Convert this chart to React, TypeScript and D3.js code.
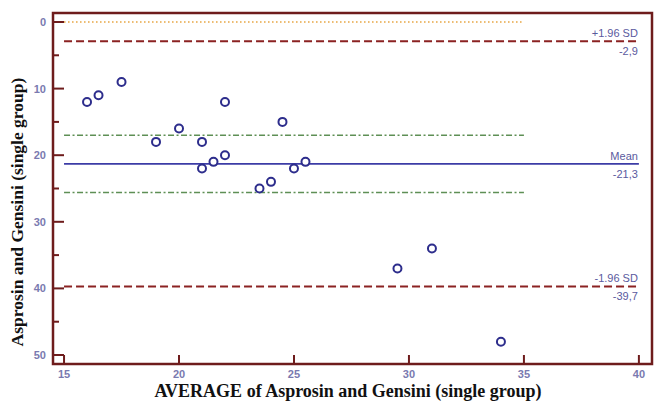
import React from "react";
import * as d3 from "d3";

// Bland-Altman data: average (x) and difference (y, negative)
const avgValues = [16, 16.5, 17.5, 19, 20, 21, 21, 21.5, 22, 22, 23.5, 24, 24.5, 25, 25.5, 29.5, 31, 34];
const diffValues = [-12, -11, -9, -18, -16, -18, -22, -21, -20, -12, -25, -24, -15, -22, -21, -37, -34, -48];

const xTicks = [15, 20, 25, 30, 35, 40];
const yTicks = [0, -10, -20, -30, -40, -50];
const yMinorTicks = [-5, -15, -25, -35, -45];

const zeroLine = 0;
const upperLoA = -2.9;
const meanDiff = -21.3;
const lowerLoA = -39.7;
const meanCI = [-17.0, -25.6];

const W = 658;
const H = 406;

export default function App() {
  const x = d3.scaleLinear().domain([14.52, 40.57]).range([53, 652]);
  const y = d3.scaleLinear().domain([1.35, -51.35]).range([13, 364]);
  const axisColor = "#6e1c1c";
  const tickLabelColor = "#7a7ab0";
  const annColor = "#5a5a9e";
  const lblFont = "Liberation Sans, Arial, sans-serif";
  const fmt = (v: number) => (v < 0 ? "-" : "") + Math.abs(v).toFixed(1).replace(".", ",");

  const hline = (v: number, x0: number, x1: number, props: any, key: string) => (
    <line key={key} x1={x(x0)} x2={x(x1)} y1={y(v)} y2={y(v)} {...props} />
  );

  return (
    <svg width={W} height={H} style={{ position: "absolute", left: 0, top: 0, background: "#fff" }}>
      {/* reference lines */}
      {hline(zeroLine, 15, 35, { stroke: "#e6a23c", strokeWidth: 1.5, strokeDasharray: "1.5,2.5" }, "zero")}
      {hline(upperLoA, 15, 40, { stroke: "#8b2222", strokeWidth: 2, strokeDasharray: "8,4" }, "up")}
      {hline(lowerLoA, 15, 40, { stroke: "#8b2222", strokeWidth: 2, strokeDasharray: "8,4" }, "lo")}
      {meanCI.map((v, i) =>
        hline(v, 15, 35, { stroke: "#5e8f55", strokeWidth: 1.5, strokeDasharray: "6,2.5,2,2.5" }, "ci" + i)
      )}
      {hline(meanDiff, 15, 40, { stroke: "#3c3ca6", strokeWidth: 1.6 }, "mean")}

      {/* annotations */}
      <g fontFamily={lblFont} fontSize={11} fill={annColor} textAnchor="end">
        <text x={x(40) - 1} y={y(upperLoA) - 4}>+1.96 SD</text>
        <text x={x(40) - 1} y={y(upperLoA) + 14}>{fmt(upperLoA)}</text>
        <text x={x(40) - 1} y={y(meanDiff) - 4}>Mean</text>
        <text x={x(40) - 1} y={y(meanDiff) + 14}>{fmt(meanDiff)}</text>
        <text x={x(40) - 1} y={y(lowerLoA) - 4}>-1.96 SD</text>
        <text x={x(40) - 1} y={y(lowerLoA) + 14}>{fmt(lowerLoA)}</text>
      </g>

      {/* points */}
      {avgValues.map((a, i) => (
        <circle key={i} cx={x(a)} cy={y(diffValues[i])} r={4} fill="#fff" stroke="#2d2d8c" strokeWidth={2} />
      ))}

      {/* frame */}
      <rect x={53} y={13} width={599} height={351} fill="none" stroke={axisColor} strokeWidth={2.5} />

      {/* y ticks */}
      {yTicks.map((t) => (
        <g key={"yt" + t}>
          <line x1={53} x2={64} y1={y(t)} y2={y(t)} stroke={axisColor} strokeWidth={2} />
          <text x={46} y={y(t) + 4} textAnchor="end" fontFamily={lblFont} fontSize={11} fontWeight="bold" fill={tickLabelColor}>
            {Math.abs(t)}
          </text>
        </g>
      ))}
      {yMinorTicks.map((t) => (
        <line key={"ym" + t} x1={53} x2={59} y1={y(t)} y2={y(t)} stroke={axisColor} strokeWidth={2} />
      ))}

      {/* x ticks */}
      {xTicks.map((t) => (
        <g key={"xt" + t}>
          <line x1={x(t)} x2={x(t)} y1={364} y2={355} stroke={axisColor} strokeWidth={2} />
          <text x={x(t)} y={378} textAnchor="middle" fontFamily={lblFont} fontSize={11} fontWeight="bold" fill={tickLabelColor}>
            {t}
          </text>
        </g>
      ))}

      {/* axis titles */}
      <text x={348} y={397} textAnchor="middle" fontFamily="Liberation Serif, Times New Roman, serif" fontWeight="bold" fontSize={18} fill="#111">
        AVERAGE of Asprosin and Gensini (single group)
      </text>
      <text
        transform={`translate(23, 212) rotate(-90)`}
        textAnchor="middle"
        fontFamily="Liberation Serif, Times New Roman, serif"
        fontWeight="bold"
        fontSize={17.5}
        fill="#111"
      >
        Asprosin and Gensini (single group)
      </text>
    </svg>
  );
}
